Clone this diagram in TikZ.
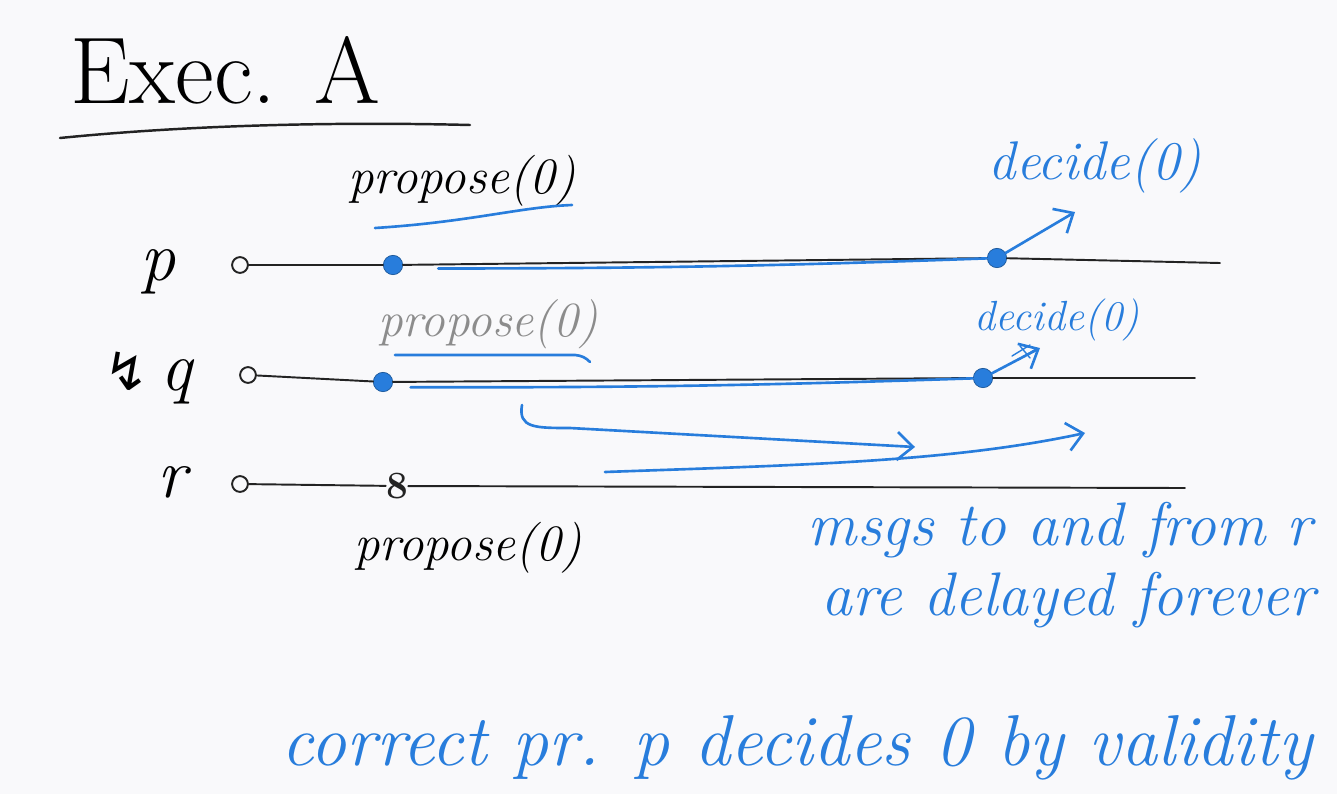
\documentclass[tikz,border=0pt]{standalone}
\usepackage{fontspec}
\usetikzlibrary{arrows.meta}
\definecolor{penblue}{RGB}{40,125,220}
\definecolor{penblack}{RGB}{35,35,35}
\definecolor{fadegray}{RGB}{140,140,140}
\definecolor{board}{RGB}{249,249,251}
\newfontfamily\boltfont{DejaVu Sans}

\begin{document}
\begin{tikzpicture}[x=0.02cm, y=-0.02cm, >={Straight Barb[length=9pt,width=16pt]}, line cap=round]
    \useasboundingbox[fill=board] (0,0) rectangle (1337,794);
    \tikzset{
      hand/.style={font=\fontsize{#1}{#1}\selectfont\itshape, inner sep=0pt},
      start/.style={draw=penblack, line width=1.1pt, circle, inner sep=0pt, minimum size=9pt},
      event/.style={fill=penblue, draw=penblue!70!black, circle, inner sep=0pt, minimum size=11pt},
      tline/.style={penblack, line width=1.1pt},
      bline/.style={penblue, line width=1.5pt}
    }
    % title
    \node[hand=54, anchor=west] (title) at (70,70) {\upshape Exec. A};
    \draw[penblack, line width=1.4pt] (60,138) .. controls (200,124) and (350,122) .. (470,125);
    % processes
    \node[hand=40] (lp) at (158,272) {p};
    \node[hand=40] (lq) at (148,378) {{\boltfont\upshape\fontsize{30}{30}\selectfont ↯}\,q};
    \node[hand=40] (lr) at (172,482) {r};
    % time lines
    \node[start] (ps) at (240,265) {};
    \node[start] (qs) at (248,375) {};
    \node[start] (rs) at (240,484) {};
    \node[event] (pp) at (393,265) {};
    \node[event] (qp) at (383,382) {};
    \node[penblack, hand=22] (rp) at (397,486) {\upshape\bfseries 8};
    \node[event] (pd) at (997,258) {};
    \node[event] (qd) at (983,378) {};
    \coordinate (pe) at (1220,263);
    \coordinate (qe) at (1195,378);
    \coordinate (re) at (1185,488);
    \draw[tline] (ps) -- (pp) -- (pd) -- (pe);
    \draw[tline] (qs) -- (qp) -- (qd) -- (qe);
    \draw[tline] (rs) -- (rp) -- (re);
    % blue runs to the decisions
    \draw[bline] ([xshift=20pt,yshift=-2pt]pp.east) to[bend right=1] (pd);
    \draw[bline] ([xshift=10pt,yshift=-3pt]qp.east) to[bend right=1] (qd);
    % proposals
    \node[hand=29] (propp) at (462,181) {propose(0)};
    \draw[bline] (375,228) .. controls (470,222) and (520,207) .. (572,205);
    \node[hand=28, fadegray] (propq) at (488,324) {propose(0)};
    \draw[bline] (395,355) -- (575,355) to[bend left=20] (590,362);
    \node[hand=29] (propr) at (468,548) {propose(0)};
    % decisions
    \node[hand=31, penblue] (decp) at (1095,166) {decide(0)};
    \draw[bline, ->] (pd) -- (1075,212);
    \node[hand=24, penblue] (decq) at (1057,320) {decide(0)};
    \draw[bline, ->] (qd) -- (1040,348);
    \draw[penblue, thick] (1012,356) -- (1030,345) (1018,360) -- (1036,349) (1020,346) -- (1030,358);
    % delayed messages
    \coordinate (m1s) at (522,405);
    \coordinate (m1e) at (915,447);
    \coordinate (m2s) at (605,472);
    \coordinate (m2e) at (1085,433);
    \draw[bline, ->] (m1s) .. controls (518,428) and (535,428) .. (570,428) -- (m1e);
    \draw[bline, ->] (m2s) .. controls (800,465) and (950,462) .. (m2e);
    % notes
    \node[hand=35, penblue] (note1) at (1060,530) {msgs to and from r};
    \node[hand=35, penblue] (note2) at (1068,600) {are delayed forever};
    \node[hand=41, penblue] (note3) at (797,748) {correct pr. p decides 0 by validity};
\end{tikzpicture}
\end{document}
